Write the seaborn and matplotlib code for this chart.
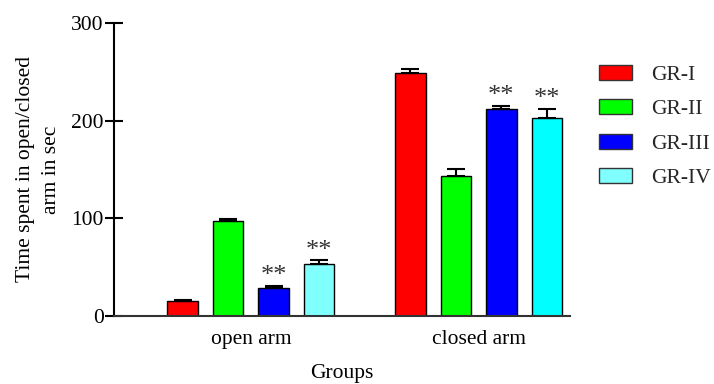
import matplotlib
matplotlib.use("Agg")
import matplotlib.pyplot as plt
import seaborn as sns
import pandas as pd
import numpy as np

# Mean time (sec) and SEM per group in each arm
categories = ["open arm", "closed arm"]
groups = ["GR-I", "GR-II", "GR-III", "GR-IV"]
open_means = [15, 97, 29, 53]
open_err = [1.5, 2.5, 2, 4]
closed_means = [249, 143, 212, 203]
closed_err = [4, 8, 3.5, 9]
open_marks = ["", "", "**", "**"]
closed_marks = ["", "", "**", "**"]
yticks = [0, 100, 200, 300]

palette = ["#ff0000", "#00ff00", "#0000ff", "#80ffff"]

sns.set_theme(style="white")
plt.rcParams["font.family"] = ["Liberation Serif", "DejaVu Serif"]

df = pd.DataFrame({
    "arm": [categories[0]] * 4 + [categories[1]] * 4,
    "group": groups * 2,
    "time": open_means + closed_means,
})

fig = plt.figure(figsize=(7.14, 3.84), dpi=100)
ax = fig.add_axes([114 / 714, 1 - 316 / 384, (570 - 114) / 714, (316 - 23) / 384])

sns.barplot(data=df, x="arm", y="time", hue="group", order=categories,
            hue_order=groups, palette=palette, width=0.8, gap=0.33,
            edgecolor="black", linewidth=1.0, saturation=1, errorbar=None,
            legend=True, ax=ax)

bar_sets = list(ax.containers)
errs = [open_err, closed_err]
means = [open_means, closed_means]
marks = [open_marks, closed_marks]
for gi, cont in enumerate(bar_sets):
    for ai, bar in enumerate(cont.patches):
        cx = bar.get_x() + bar.get_width() / 2
        m = means[ai][gi]
        e = errs[ai][gi]
        ax.errorbar(cx, m, yerr=[[0], [e]], fmt="none", ecolor="black",
                    elinewidth=1.5, capsize=6.5, capthick=1.5, zorder=1)
        if marks[ai][gi]:
            ax.text(cx, m + e - 1.5, marks[ai][gi], ha="center", va="bottom",
                    fontsize=19, color="#333333")

# closed-arm GR-IV bar is drawn in full cyan
bar_sets[3].patches[1].set_facecolor("#00ffff")

ax.set_ylim(0, 300)
ax.set_xlim(-0.602, 1.402)
ax.set_yticks(yticks)
ax.set_yticklabels([str(t) for t in yticks], fontsize=15.5)
ax.tick_params(axis="y", direction="inout", length=13, width=1.5, pad=1,
               left=True, colors="black")
ax.tick_params(axis="x", length=0, pad=10, labelsize=15.5)
for lbl in ax.get_xticklabels():
    lbl.set_color("black")

sns.despine(ax=ax)
ax.spines["left"].set_linewidth(1.5)
ax.spines["bottom"].set_linewidth(1.5)
ax.spines["left"].set_color("black")
ax.spines["bottom"].set_color("#333333")

ax.set_xlabel("Groups", fontsize=15.5, labelpad=11, color="black")
ax.set_ylabel("Time spent in open/closed\narm in sec", fontsize=15.5,
              labelpad=7, linespacing=1.5, color="black")

leg = ax.legend(loc="upper left", bbox_to_anchor=(599 / 714, 1 - 65 / 384),
                bbox_transform=fig.transFigure, frameon=False, fontsize=15.5,
                handlelength=1.55, handleheight=0.7, handletextpad=0.85,
                labelspacing=0.66, borderaxespad=0, borderpad=0)
for h in leg.legend_handles:
    h.set_edgecolor("#333333")
    h.set_linewidth(1.0)

fig.savefig("out.png", dpi=100)
